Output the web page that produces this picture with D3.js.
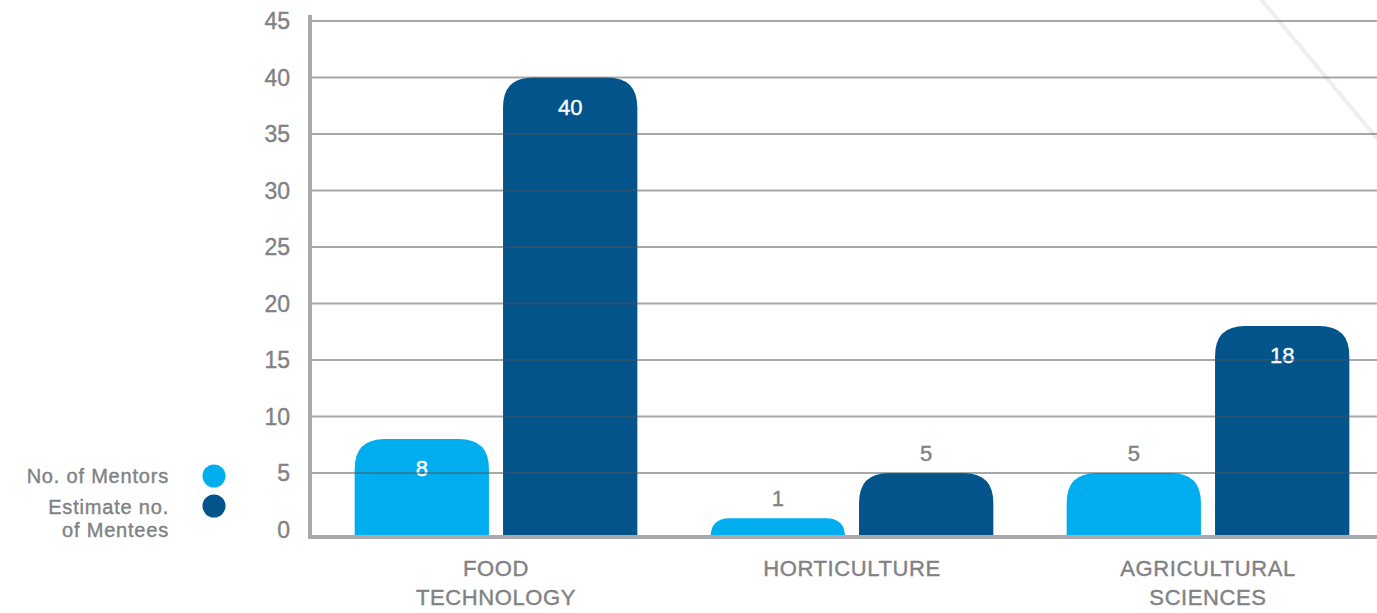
<!DOCTYPE html>
<html>
<head>
<meta charset="utf-8">
<script src="https://cdn.jsdelivr.net/npm/d3@7"></script>
<style>
  html, body { margin: 0; padding: 0; background: #fff; }
  svg { display: block; }
  text { font-family: "Liberation Sans", Arial, sans-serif; }
</style>
</head>
<body>
<svg id="chart" width="1377" height="613"></svg>
<script>
// Mentoring programme: mentors and estimated mentees per field
const categories = [["FOOD", "TECHNOLOGY"], ["HORTICULTURE"], ["AGRICULTURAL", "SCIENCES"]];
const seriesNames = ["No. of Mentors", "Estimate no. of Mentees"];
const mentors = [8, 1, 5];
const mentees = [40, 5, 18];
const yTicks = [0, 5, 10, 15, 20, 25, 30, 35, 40, 45];

const colors = ["#00aeef", "#02548b"];
const grey = "#808285";

const svg = d3.select("#chart");
const W = 1377;
const baseline = 537;

const y = d3.scaleLinear().domain([0, 45]).range([529.5, 21]);
const catKeys = categories.map(c => c.join(" "));
const x0 = d3.scaleBand().domain(catKeys).range([318, 1386])
  .paddingInner(0.206).paddingOuter(0.103);
const x1 = d3.scaleBand().domain(seriesNames).range([0, x0.bandwidth()])
  .paddingInner(0.095).paddingOuter(0);

// faint decorative diagonal
svg.append("line")
  .attr("x1", 1260).attr("y1", -2).attr("x2", 1380).attr("y2", 142)
  .attr("stroke", "#eeeeef").attr("stroke-width", 4);

// bars with rounded tops
function topRounded(x, yTop, w, yBottom, r) {
  const h = yBottom - yTop;
  r = Math.min(r, h, w / 2);
  return `M${x},${yBottom}V${yTop + r}Q${x},${yTop} ${x + r},${yTop}` +
         `H${x + w - r}Q${x + w},${yTop} ${x + w},${yTop + r}V${yBottom}Z`;
}

const rows = catKeys.map((k, i) => ({ key: k, values: [mentors[i], mentees[i]] }));

const groups = svg.append("g").selectAll("g").data(rows).join("g")
  .attr("transform", d => `translate(${x0(d.key)},0)`);

groups.selectAll("path").data(d => d.values.map((v, j) => ({ v, s: seriesNames[j], j })))
  .join("path")
  .attr("d", d => topRounded(x1(d.s), y(d.v), x1.bandwidth(), baseline, 30))
  .attr("fill", d => colors[d.j]);

// gridlines drawn over bars, semi-transparent
svg.append("g").selectAll("line").data(yTicks.filter(t => t > 0)).join("line")
  .attr("x1", 310).attr("x2", W)
  .attr("y1", d => y(d)).attr("y2", d => y(d))
  .attr("stroke", "#50525a").attr("stroke-opacity", 0.5).attr("stroke-width", 2);

// value labels
const inside = v => (baseline - y(v)) > 70;
groups.selectAll("text.val").data(d => d.values.map((v, j) => ({ v, s: seriesNames[j], j })))
  .join("text").attr("class", "val")
  .attr("x", d => x1(d.s) + x1.bandwidth() / 2)
  .attr("y", d => inside(d.v) ? y(d.v) + 37 : y(d.v) - 12)
  .attr("text-anchor", "middle")
  .attr("font-size", 22)
  .attr("fill", d => inside(d.v) ? "#ffffff" : grey)
  .attr("stroke", d => inside(d.v) ? "#ffffff" : grey)
  .attr("stroke-width", 0.4)
  .text(d => d.v);

// axes
svg.append("line").attr("x1", 310).attr("x2", 310).attr("y1", 15).attr("y2", 539)
  .attr("stroke", "#a7a9ac").attr("stroke-width", 4);
svg.append("line").attr("x1", 308).attr("x2", W).attr("y1", baseline).attr("y2", baseline)
  .attr("stroke", "#a7a9ac").attr("stroke-width", 4);

// y tick labels
svg.append("g").selectAll("text").data(yTicks).join("text")
  .attr("x", 290).attr("y", d => y(d) + 8)
  .attr("text-anchor", "end")
  .attr("font-size", 23)
  .attr("fill", grey).attr("stroke", grey).attr("stroke-width", 0.4)
  .text(d => d);

// category labels
const cat = svg.append("g").selectAll("text").data(categories).join("text")
  .attr("x", (d, i) => x0(catKeys[i]) + x0.bandwidth() / 2)
  .attr("y", 576)
  .attr("text-anchor", "middle")
  .attr("font-size", 22).attr("letter-spacing", "0.6px")
  .attr("fill", grey).attr("stroke", grey).attr("stroke-width", 0.4);
cat.selectAll("tspan").data(d => d).join("tspan")
  .attr("x", function () { return d3.select(this.parentNode).attr("x"); })
  .attr("dy", (d, i) => i === 0 ? 0 : 29)
  .text(d => d);

// legend
const legendLines = [["No. of Mentors"], ["Estimate no.", "of Mentees"]];
const legendY = [476, 506];
const lg = svg.append("g");
legendLines.forEach((lines, i) => {
  lg.append("circle").attr("cx", 214).attr("cy", legendY[i]).attr("r", 11.5).attr("fill", colors[i]);
  const t = lg.append("text").attr("x", 169).attr("y", legendY[i] + 7)
    .attr("text-anchor", "end").attr("font-size", 20).attr("letter-spacing", "0.8px")
    .attr("fill", grey).attr("stroke", grey).attr("stroke-width", 0.4);
  lines.forEach((ln, k) => t.append("tspan").attr("x", 169).attr("dy", k === 0 ? (i === 1 ? 1 : 0) : 23).text(ln));
});
</script>
</body>
</html>
